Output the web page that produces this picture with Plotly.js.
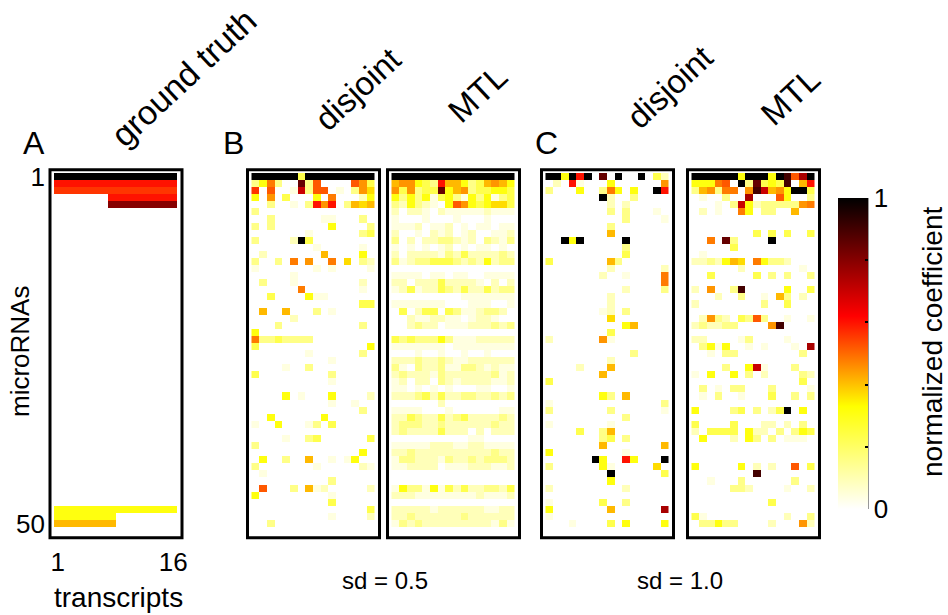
<!DOCTYPE html>
<html>
<head>
<meta charset="utf-8">
<script src="https://cdn.plot.ly/plotly-3.0.1.min.js"></script>
<style>html,body{margin:0;padding:0;background:#fff;}#chart{width:948px;height:615px;}</style>
</head>
<body>
<div id="chart"></div>
<script>
// ---- data ----
const transcripts = [1,2,3,4,5,6,7,8,9,10,11,12,13,14,15,16];
const microRNAs = [1,2,3,4,5,6,7,8,9,10,11,12,13,14,15,16,17,18,19,20,21,22,23,24,25,26,27,28,29,30,31,32,33,34,35,36,37,38,39,40,41,42,43,44,45,46,47,48,49,50];
const xTickLabels = ['1','16'];
const yTickLabels = ['1','50'];
// level code -> normalized coefficient
const levelCodes  = ['.','a','b','c','d','e','f','g','h','i','j','k','l','m','n','o','p','q','r','s','t'];
const levelValues = [0,0.04,0.09,0.155,0.23,0.31,0.37,0.41,0.45,0.48,0.52,0.56,0.6,0.65,0.7,0.75,0.8,0.85,0.9,0.95,1];

const groundTruth = [
"tttttttttttttttt","llllllllllllllll","kkkkkkkkkkkkkkkk",".......lllllllll",".......ppppppppp",
"................","................","................","................","................",
"................","................","................","................","................",
"................","................","................","................","................",
"................","................","................","................","................",
"................","................","................","................","................",
"................","................","................","................","................",
"................","................","................","................","................",
"................","................","................","................","................",
"................","................","eeeeeeeeeeeeeeee","eeeeeeee........","gggggggg........"];

const disjoint05 = [
"ttttttdttttttttt","ceic..qcj....jhd","k.j..ancjj.a.chf","e.h.d...e.i...be","..c..a.clhl.cgfg",
"c...............","..c......aa...c.","c.c.......e....c",".......a......cd","c....btd........",
"........a.....a.",".b.......g....e.","c..c.i.h..i.f.cb","a.......a.a....a",".....a..........",
".c...a........b.","......i.......a.","..d....eaa......","..............dd",".g..g...c.a.....",
".....b..........","...c..........c.","e...............","iccdcccc........","d..............e",
".......a......c.","..........a.....","....a..c........","d.........c.....","..........a.....",
"................","....e.a...e....b","..........a..a..","..............c.","..e......e......",
"a..e...ac.d.....","................","....a..cd......d","c...............","..............e.",
".e..c..g..a.ae..","c.......a.....ba",".a..............","..........c.....",".j...c.gab.....b",
"e.........a.....","..........d.....","...............d","..........a....b","..c............."];

const mtl05 = [
"tttttttttttttttt","ghhedclggecdghge","hdhcddqeghcddeed","ececeadecaeceacd","cbecba.ejhedeffd",
"b.bba.baaaaabaaa","a...a...a...a...","aaab.aab.a.aa.aa","b..a.bab.ab..aab","c.b.bbccbab.cbac",
"a.a.a.ab.a.aa.a.","b.bbbbacbdbbbbcb","cabccdddcbcbebcc","................","aaaa.aa.aa..aaaa",
"bb.bbbdbbbba.b.b","abdabbdcbdbbdbcc",".........aaaaaaa","aaaaaaa...aaa..a",".d.bdd.dcaabccb.",
"..baabbaa.abba..","..bcbb.aaabbbcbc","................","dcdcccecaaabbbbb","aaaaaaa.aaaaaaaa",
"...a..a..a..a...","bbbcbbcbaabbbbbb","ca.cbbcaaccbabaa","bcbbbacbbbbbbcab","ab.bb.cbabbbbaab",
"aa.a.a.a...aa..a","bbbcdbdbbccbbcbc","......b.........","aaaa...a......aa","bbdcbbdbcdbbbbcb",
"bcccbbcbbbbbbcbb","bcbbbbdbbb.b.bbb","..........aa....","aaaaabbbaabbaaaa","bbcbbbbbbbbbbcbb",
"accbbbacbbcbcccb","aabbbb.aaabbbaab","................","................","aeccaeadbdbbccbd",
"bbbaaaaaaaabaaab","................","bbbbbabbbbbbaabb","bbcbbbbbbcbbbbbb","acbcbbbbbbbbbaca"];

const disjoint10 = [
"ttetlt.q.t..t.db",".b.la...e......h","c...e..cie.e..tl",".......tb..c....","........b.b.....",
"........c.c...a.","..........c....a","........c.......","........g.......","..tet.....t.....",
"..........c.....","..........d.....","d.......gc......","........b......b",".......b..a....i",
"...............i","..........b....c","........b.......","........b.......",".......ab.c.....",
"........f.......","..........eg....","........d.......","b......ha.......","................",
"...........c....","........b.......","....b...g.......",".......g........","d...............",
"................",".......ec.g.....","a..............c","c.......c......a","..........c.....",
"a.......a.......","....d..cg.......",".......cd.c.....",".......g.......g","e.........a.....",
"......te..le...t","c......ea.....f.","........t......d","........e.......","b.........b.....",
"................","a......d..c.....","e.......g......o","a...............","...a....d.e....e"];

const mtl10 = [
"ttttttetttetrjot","eeeij.tcqdedr.gl","cghcii.hrnghettd",".a..c..o...je..c","...a.cnebccccchi",
".b.a..ie.cc..g..","................","................","........d.d.d..d","..i.qc....t.....",
".....d..........",".a..............","bbcbegf.ieccb...","......b.......a.","..d.....d.c.c..c",
"................","b.h..cr.....e..d","...b..c..a.gc.b.","b........c..d...","................",
".bhcb.dcjc..a..a","bcbbcc....hr....","................","bb....ac....a...",".ceae..a.a...a.o",
"..a.cc........c.","................","....c..ena...c..","a.e..e.c.b....cb","..............d.",
".c.a.cc...c....a",".a.c..a...d..c.c","................","e....cd.c.bdt.e.","................",
"d....d...bb.b.c.","b.dddd.ebb.c.ced",".e...b.ec.c.aaa.","................","................",
"................","e.....e.b.b..j.d","........r.......","..a...c......c..",".....ccb....a..b",
"................","..........d.....","................","da..........b..c",".ccecc....b...hb"];

const panelData = [groundTruth, disjoint05, mtl05, disjoint10, mtl10];

// ---- styling / layout ----
const W = 948, H = 615;
const FONT = 'Liberation Sans, Arial, sans-serif';
const colorscale = [[0,'#ffffff'],[0.33,'#ffff00'],[0.62,'#ff0000'],[1,'#000000']];
const cellsLeft = [54, 251.5, 391.5, 545.5, 691.5];
const cellW = 123/16;
const frameTop = 169.8, frameBottom = 537.8, cellsTop = 173, cellH = 354/50;

function toZ(rows){
  return rows.map(r => r.split('').map(ch => levelValues[levelCodes.indexOf(ch)]));
}

const data = [];
const layout = {
  width: W, height: H,
  margin: {l:0, r:0, t:0, b:0},
  paper_bgcolor: '#ffffff', plot_bgcolor: '#ffffff',
  showlegend: false,
  font: {family: FONT, color: '#000'},
  shapes: [], annotations: []
};

const yDom = [1 - frameBottom/H, 1 - frameTop/H];
const yRange = [50.5 + (frameBottom - (cellsTop + 50*cellH))/cellH, 0.5 - (cellsTop - frameTop)/cellH];

panelData.forEach((rows, i) => {
  const n = i === 0 ? '' : String(i+1);
  const cl = cellsLeft[i];
  const fl = cl - 4, fr = cl + 128;
  const trace = {
    type: 'heatmap', z: toZ(rows), x: transcripts, y: microRNAs,
    colorscale: colorscale, zmin: 0, zmax: 1,
    xaxis: 'x' + n, yaxis: 'y' + n,
    hoverinfo: 'skip', showscale: i === 0
  };
  if (i === 0) {
    trace.colorbar = {
      thicknessmode: 'pixels', thickness: 30,
      lenmode: 'pixels', len: 311,
      x: 838/W, xanchor: 'left', y: 1 - 198/H, yanchor: 'top',
      xpad: 0, ypad: 0, outlinewidth: 0,
      tickvals: [0,0.2,0.4,0.6,0.8,1], ticktext: ['0','','','','','1'],
      ticks: 'inside', ticklen: 3, tickwidth: 2, tickcolor: '#000',
      tickfont: {family: FONT, size: 26, color: '#000'}
    };
  }
  data.push(trace);
  const xa = {
    domain: [fl/W, fr/W], anchor: 'y' + n,
    range: [0.5 - (cl - fl)/cellW, 0.5 + (fr - cl)/cellW],
    showgrid: false, zeroline: false, showline: false, ticks: '',
    showticklabels: i === 0, tickvals: [1,16], ticktext: xTickLabels,
    tickfont: {family: FONT, size: 26, color: '#000'}, ticklabelstandoff: 6,
    fixedrange: true
  };
  const ya = {
    domain: yDom, anchor: 'x' + n, range: yRange,
    showgrid: false, zeroline: false, showline: false, ticks: '',
    showticklabels: i === 0, tickvals: [1,50], ticktext: yTickLabels,
    tickfont: {family: FONT, size: 26, color: '#000'}, ticklabelstandoff: 4,
    fixedrange: true
  };
  layout['xaxis' + n] = xa;
  layout['yaxis' + n] = ya;
  layout.shapes.push({type:'rect', xref: 'x' + n + ' domain', yref: 'y' + n + ' domain',
    x0: 0, x1: 1, y0: 0, y1: 1, line: {color: '#000', width: 3}, layer: 'above'});
});

// colorbar right edge line
layout.shapes.push({type:'line', xref:'paper', yref:'paper', x0: 868/W, x1: 868/W,
  y0: 1 - 198/H, y1: 1 - 509/H, line: {color:'#333', width: 1}});

function ann(text, px, py, size, angle){
  layout.annotations.push({text: text, xref:'paper', yref:'paper', x: px/W, y: 1 - py/H,
    xanchor:'center', yanchor:'middle', showarrow:false, textangle: angle || 0,
    borderpad: 0,
    font:{family: FONT, size: size, color:'#000'}});
}
ann('A', 34, 143, 32);
ann('B', 233, 143, 32);
ann('C', 546, 143, 32);
ann('ground truth', 183, 78, 34, -43);
ann('disjoint', 357, 89, 33, -43);
ann('MTL', 478, 94, 33, -43);
ann('disjoint', 669, 87, 33, -43);
ann('MTL', 790, 96, 33, -43);
ann('microRNAs', 20, 352, 26, -90);
ann('transcripts', 118, 597, 28);
ann('sd = 0.5', 385, 580, 24);
ann('sd = 1.0', 680, 580, 24);
ann('normalized coefficient', 932, 342, 28, -90);

Plotly.newPlot('chart', data, layout, {staticPlot: true, displayModeBar: false});
</script>
</body>
</html>
